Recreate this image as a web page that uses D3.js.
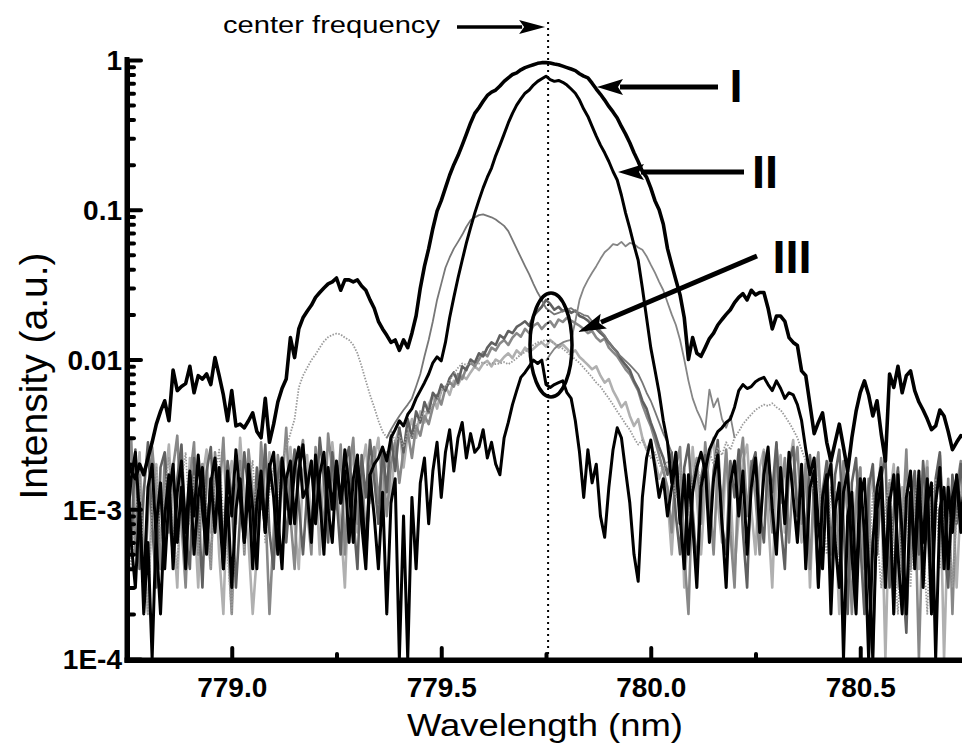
<!DOCTYPE html>
<html>
<head>
<meta charset="utf-8">
<script src="https://cdn.jsdelivr.net/npm/d3@7"></script>
<style>
body { margin: 0; background: #fff; }
text { font-family: "Liberation Sans", Arial, Helvetica, sans-serif; }
</style>
</head>
<body>
<div id="chart"></div>
<script>
// spectrometer grid: 778.75 .. 780.75 nm, 0.01 nm per sample
var wavelength = d3.range(201).map(function(i) { return Math.round((778.75 + i * 0.01) * 100) / 100; });
var centerWavelength = 779.755;

// curve I (broad, with side lobes)
var curveI = [
.0022,.0018,.0016,.0020,.0017,.0022,.0028,.0037,.0045,.0053,
.0039,.0085,.0062,.0066,.0069,.0090,.0060,.0078,.0074,.0080,
.0068,.0103,.0078,.0058,.0039,.0062,.0036,.0037,.0035,.0039,
.0044,.0033,.0030,.0055,.0028,.0037,.0052,.0064,.0074,.0140,
.0103,.0160,.0190,.0210,.0230,.0260,.0280,.0300,.0320,.0330,
.0350,.0290,.0340,.0340,.0330,.0340,.0310,.0290,.0250,.0220,
.0180,.0160,.0145,.0130,.0135,.0115,.0135,.0120,.0150,.0196,
.0300,.0420,.0550,.0750,.0980,.1150,.1400,.1700,.2000,.2300,
.2700,.3200,.3800,.4400,.4800,.5300,.5800,.6100,.6300,.6700,
.7200,.7600,.8000,.8200,.8600,.8900,.9100,.9300,.9500,.9600,
.9600,.9550,.9400,.9300,.9100,.8900,.8700,.8500,.8100,.7800,
.7600,.7000,.6400,.5900,.5400,.4900,.4500,.4100,.3600,.3200,
.2800,.2400,.2100,.1800,.1650,.1400,.1150,.1000,.0800,.0550,
.0430,.0340,.0270,.0190,.0100,.0140,.0110,.0105,.0120,.0138,
.0150,.0170,.0185,.0200,.0215,.0240,.0260,.0275,.0250,.0290,
.0270,.0280,.0280,.0220,.0160,.0195,.0195,.0180,.0140,.0130,
.0124,.0084,.0078,.0050,.0032,.0038,.0044,.0028,.0021,.0028,
.0037,.0026,.0018,.0030,.0045,.0060,.0072,.0058,.0042,.0053,
.0032,.0021,.0080,.0065,.0090,.0060,.0078,.0084,.0062,.0052,
.0046,.0040,.0034,.0036,.0046,.0042,.0033,.0025,.0028,.0031,
.0030];

// curve II (narrow peak)
var curveII = [
.0008,.0016,.0024,.0009,.0003,.0014,.0020,.0006,.0002,.0009,
.0017,.0004,.0013,.0021,.0007,.0018,.0005,.0012,.0019,.0006,
.0015,.0022,.0010,.0004,.0018,.0009,.0025,.0012,.0006,.0020,
.0010,.0004,.0016,.0007,.0019,.0024,.0009,.0004,.0016,.0021,
.0008,.0018,.0027,.0013,.0006,.0023,.0012,.0005,.0019,.0010,
.0021,.0011,.0025,.0014,.0006,.0020,.0012,.0005,.0017,.0020,
.0022,.0026,.0021,.0030,.0034,.0039,.0036,.0043,.0047,.0055,
.0062,.0070,.0080,.0095,.0104,.0098,.0130,.0190,.0260,.0350,
.0460,.0600,.0760,.0950,.1160,.1400,.1650,.1900,.2300,.2700,
.3200,.3800,.4400,.5000,.5500,.6000,.6300,.6800,.7200,.7500,
.7800,.7400,.7200,.7300,.7100,.6800,.6400,.6000,.5400,.4700,
.4200,.3600,.3100,.2700,.2400,.2100,.1800,.1580,.1250,.0950,
.0750,.0580,.0460,.0300,.0190,.0120,.0085,.0060,.0039,
.0028,.0015,.0024,.0009,.0004,.0017,.0008,.0003,.0014,.0020,
.0006,.0016,.0023,.0008,.0003,.0015,.0021,.0009,.0018,.0005,
.0014,.0022,.0007,.0017,.0026,.0010,.0005,.0019,.0008,.0024,
.0012,.0006,.0020,.0004,.0014,.0018,.0003,.0012,.0017,.0002,
.0010,.0015,.0001,.0009,.0013,.0003,.0016,.0007,.0001,.0006,
.0014,.0019,.0004,.0012,.0002,.0017,.0007,.0002,.0013,.0005,
.0018,.0003,.0011,.0015,.0001,.0010,.0014,.0004,.0012,.0016,
.0007,.0014];

// thick black trace with dip at line centre
var curveD = [
.0018,.0006,.0003,.0011,.0002,.0006,.0001,.0008,.0015,.0004,
.0012,.0020,.0006,.0014,.0004,.0017,.0009,.0023,.0010,.0005,
.0016,.0007,.0019,.0004,.0012,.0003,.0010,.0016,.0006,.0014,
.0004,.0011,.0018,.0007,.0020,.0012,.0005,.0022,.0013,.0008,
.0019,.0026,.0012,.0014,.0021,.0008,.0017,.0024,.0010,.0006,
.0020,.0011,.0018,.0006,.0016,.0023,.0008,.0004,.0017,.0009,
.0004,.0013,.0002,.0011,.0016,.0001,.0009,.0001,.0012,.0004,
.0015,.0022,.0008,.0018,.0028,.0012,.0024,.0034,.0018,.0030,
.0038,.0022,.0032,.0024,
.0026,.0034,.0022,.0028,.0020,.0017,.0030,.0038,.0050,.0062,
.0076,.0082,.0090,.0099,.0094,.0099,.0068,.0065,.0068,.0070,
.0072,.0060,.0055,.0039,.0024,.0012,.0025,.0015,.0020,.0009,
.00065,.0014,.0025,.0035,.0030,.0018,.0011,.0005,.00033,.0012,
.0022,.0029,.0019,.0012,.0016,.0009,
.0014,.0021,.0008,.0017,.0005,.0013,.0019,.0024,.0018,.0025,
.0029,.0033,.0035,.0038,.0040,.0048,.0062,.0068,.0064,.0066,
.0071,.0074,.0076,.0068,.0062,.0072,.0064,.0055,.0060,.0058,
.0050,.0039,.0025,.0017,.0022,.0008,.0004,.0015,.0020,.0006,
.0003,.0013,.0018,.0005,.0002,.0012,.0016,.0004,.0001,.0010,
.0015,.0003,.0011,.0017,.0005,.0002,.0012,.0018,.0004,.0013,
.0006,.0016,.0002,.0011,.0019,.0004,.0014,.0007,.0017,.0009,
.0015];

// group III traces (small peaks at line centre)
var curveN1 = [
.0021,.0006,.0025,.0004,.0013,.0028,.0008,.0003,.0019,.0024,
.0009,.0005,.0016,.0027,.0007,.0004,.0022,.0011,.0003,.0018,
.0026,.0008,.0015,.0005,.0021,.0012,.0003,.0009,.0024,.0013,
.0006,.0019,.0010,.0027,.0007,.0004,.0017,.0022,.0006,.0014,
.0025,.0011,.0005,.0013,.0021,.0009,.0030,.0016,.0006,.0024,
.0012,.0005,.0020,.0026,.0009,.0004,.0023,.0012,.0029,.0016,
.0008,.0026,.0013,.0031,.0018,.0035,.0024,.0040,.0030,.0045,
.0038,.0052,.0044,.0060,.0055,.0068,.0062,.0075,.0082,.0070,
.0090,.0085,.0100,.0095,.0110,.0105,.0120,.0130,.0125,.0145,
.0138,.0155,.0150,.0165,.0172,.0180,.0168,.0195,.0210,.0225,
.0250,.0235,.0215,.0225,.0210,.0218,.0205,.0212,.0195,.0190,
.0182,.0170,.0160,.0150,.0142,.0130,.0120,.0112,.0100,.0092,
.0085,.0072,.0064,.0053,.0047,.0038,.0032,.0026,.0022,.0017,
.0024,.0009,.0005,.0019,.0027,.0010,.0004,.0016,.0023,.0007,
.0018,.0029,.0008,.0005,.0021,.0012,.0025,.0007,.0003,.0019,
.0024,.0010,.0006,.0022,.0013,.0028,.0008,.0004,.0020,.0026,
.0009,.0018,.0006,.0023,.0011,.0003,.0013,.0021,.0005,.0017,
.0025,.0008,.0002,.0015,.0022,.0006,.0002,.0014,.0020,.0005,
.0016,.0023,.0003,.0010,.0019,.0004,.00015,.0011,.0018,.0005,
.0021,.0009,.0002,.0016,.0024,.0006,.0003,.0017,.0008,.0020,
.0012];

var curveN2 = [
.0014,.0030,.0005,.0017,.0003,.0009,.0026,.0012,.0004,.0022,
.0007,.0019,.0031,.0008,.0003,.0016,.0028,.0005,.0020,.0010,
.0004,.0024,.0012,.0030,.0007,.0002,.0014,.0021,.0005,.0025,
.0013,.0006,.0028,.0011,.0002,.0007,.0023,.0014,.0035,.0009,
.0004,.0020,.0029,.0010,.0005,.0026,.0015,.0007,.0032,.0018,
.0010,.0027,.0005,.0018,.0030,.0008,.0021,.0006,.0019,.0026,
.0011,.0023,.0009,.0020,.0028,.0015,.0025,.0033,.0022,.0036,
.0031,.0042,.0037,.0048,.0058,.0050,.0064,.0071,.0066,.0080,
.0074,.0088,.0095,.0090,.0100,.0112,.0105,.0120,.0115,.0128,
.0135,.0125,.0140,.0150,.0142,.0160,.0150,.0168,.0175,.0160,
.0172,.0180,.0165,.0185,.0178,.0190,.0182,.0175,.0168,.0160,
.0150,.0155,.0140,.0132,.0138,.0120,.0112,.0105,.0095,.0086,
.0080,.0070,.0062,.0050,.0042,.0036,.0029,.0023,.0018,.0014,
.0007,.0019,.0026,.0005,.0002,.0015,.0022,.0008,.0028,.0013,
.0005,.0020,.0010,.0025,.0007,.0003,.0018,.0030,.0009,.0021,
.0012,.0005,.0024,.0015,.0007,.0027,.0011,.0022,.0006,.0017,
.0026,.0008,.0020,.0004,.0015,.0024,.0006,.0018,.0003,.0013,
.0005,.0021,.0009,.0002,.0011,.0019,.0004,.0016,.0001,.0012,
.0022,.0004,.0015,.0002,.0018,.0007,.0025,.0004,.0014,.0001,
.0010,.0019,.0003,.0013,.0023,.0005,.0016,.0002,.0014,.0021,
.0008];

var curveN3 = [
.0004,.0018,.0008,.0024,.0005,.0002,.0013,.0020,.0005,.0015,
.0027,.0008,.0003,.0019,.0006,.0022,.0010,.0003,.0016,.0025,
.0007,.0018,.0005,.0002,.0014,.0021,.0008,.0030,.0012,.0006,
.0002,.0005,.0019,.0009,.0024,.0012,.0005,.0021,.0010,.0026,
.0008,.0004,.0018,.0023,.0007,.0017,.0005,.0020,.0010,.0028,
.0014,.0008,.0003,.0016,.0024,.0007,.0018,.0027,.0011,.0021,
.0030,.0013,.0024,.0011,.0028,.0035,.0019,.0032,.0040,.0030,
.0045,.0038,.0050,.0058,.0047,.0062,.0066,.0058,.0072,.0068,
.0078,.0074,.0082,.0090,.0085,.0094,.0098,.0090,.0100,.0096,
.0104,.0110,.0102,.0115,.0108,.0120,.0112,.0118,.0125,.0130,
.0122,.0135,.0128,.0120,.0126,.0118,.0110,.0115,.0104,.0098,
.0092,.0086,.0090,.0078,.0070,.0074,.0062,.0055,.0048,.0052,
.0042,.0036,.0040,.0030,.0025,.0028,.0021,.0016,.0019,.0012,
.0005,.0015,.0020,.0003,.0008,.0026,.0012,.0005,.0014,.0022,
.0030,.0011,.0006,.0024,.0013,.0004,.0009,.0021,.0027,.0010,
.0005,.0019,.0025,.0009,.0003,.0017,.0023,.0007,.0019,.0029,
.0011,.0006,.0021,.0003,.0014,.0020,.0005,.0016,.0024,.0008,
.0002,.0010,.0017,.0004,.0013,.0019,.0002,.0011,.0018,.0005,
.0015,.0001,.0012,.0020,.0003,.0014,.0002,.0010,.0017,.0004,
.0013,.0021,.0003,.0011,.0018,.0001,.0009,.0015,.0003,.0012,
.0019];

// dotted trace with side lobes
var curveN4 = [
.0012,.0004,.0009,.0016,.0005,.0002,.0011,.0019,.0006,.0013,
.0022,.0007,.0004,.0015,.0024,.0008,.0017,.0005,.0020,.0010,
.0004,.0016,.0025,.0009,.0005,.0002,.0010,.0018,.0005,.0014,
.0021,.0008,.0016,.0006,.0013,.0019,.0011,.0021,
.0026,.0032,.0040,.0065,.0078,.0088,.0099,.0108,.0120,.0132,
.0141,.0146,.0149,.0147,.0140,.0135,.0125,.0110,.0090,.0072,
.0058,.0048,.0039,.0033,.0030,.0034,.0028,.0031,.0026,.0033,
.0030,.0036,
.0040,.0045,.0043,.0050,.0054,.0060,.0066,.0072,.0080,.0088,
.0094,.0092,.0095,.0093,.0094,.0096,.0092,.0095,.0093,.0094,
.0096,.0093,.0097,.0102,.0108,.0112,.0120,.0125,.0130,.0132,
.0135,.0133,.0128,.0124,.0118,.0112,.0106,.0100,.0095,.0088,
.0082,.0076,.0070,.0066,.0060,.0055,.0050,.0045,.0041,.0037,
.0034,.0030,.0027,.0029,.0025,.0022,.0024,.0020,.0018,.0021,
.0017,.0012,.0019,.0015,.0009,.0016,.0022,.0013,.0018,.0024,
.0020,.0026,.0023,.0028,.0025,.0030,.0033,.0037,.0040,.0043,
.0046,.0048,.0050,.0049,.0051,.0048,.0046,.0042,.0038,.0034,
.0030,.0025,.0021,.0017,.0013,.0016,.0009,.0005,.0014,.0008,
.0004,.0012,.0017,.0006,.0002,.0011,.0015,.0004,.0013,.0007,
.0003,.0010,.0016,.0005,.0002,.0009,.0014,.0003,.0011,.0018,
.0006,.0002,.0012,.0016,.0004,.0010,.0014,.0003,.0009,.0013,
.0005];

// thin grey traces, only the central part (start index into wavelength)
var curveG1Start = 62;
var curveG1 = [
.0030,.0034,.0038,.0042,.0046,.0050,.0055,.0066,.0080,.0105,
.0135,.0180,.0250,.0320,.0410,.0480,.0550,.0610,.0680,.0770,
.0850,.0890,.0920,.0930,.0910,.0890,.0860,.0820,.0780,.0720,
.0630,.0550,.0480,.0420,.0370,.0320,.0280,.0250,.0220,.0210,
.0200,.0205,.0210,.0215,.0220,.0210,.0205,.0198,.0195,.0180,
.0170,.0155,.0145,.0130,.0120,.0110,.0104,.0098,.0092,.0086,
.0080,.0070,.0060,.0053,.0045,.0038,.0032,.0028,.0024];

var curveG2Start = 100;
var curveG2 = [
.0098,.0108,.0118,.0125,.0130,.0133,.0135,.0180,.0250,.0300,
.0340,.0380,.0420,.0470,.0520,.0550,.0590,.0580,.0610,.0570,
.0600,.0590,.0560,.0540,.0490,.0430,.0380,.0330,.0290,.0240,
.0200,.0170,.0135,.0100,.0072,.0055,.0046,.0040,.0034,.0063,
.0048,.0055,.0040,.0035,.0042,.0030];

var xMajor = [779.0, 779.5, 780.0, 780.5];
var xMinor = [779.25, 779.75, 780.25];
var yMajor = [1e-4, 1e-3, 1e-2, 1e-1, 1];
var yMajorLabels = ["1E-4", "1E-3", "0.01", "0.1", "1"];

var width = 962;
var height = 751;

var svg = d3.select("#chart").append("svg")
    .attr("width", width)
    .attr("height", height);

//Scales
var xScale = d3.scaleLinear().domain([778.75, 780.75]).range([127, 965]);
var yScale = d3.scaleLog().domain([1e-4, 1]).range([659, 60]);

function seriesLine(start) {
    return d3.line()
        .x(function(d, i) { return xScale(wavelength[start + i]); })
        .y(function(d) { return yScale(Math.max(d, 1e-4)); });
}

var traces = [
    { values: curveN3, start: 0, color: "#b0b0b0", w: 2.6, dash: null },
    { values: curveN2, start: 0, color: "#888", w: 2.6, dash: null },
    { values: curveN1, start: 0, color: "#606060", w: 2.6, dash: null },
    { values: curveN4, start: 0, color: "#999", w: 1.8, dash: "1.5,1.5" },
    { values: curveG1, start: curveG1Start, color: "#777", w: 1.8, dash: null },
    { values: curveG2, start: curveG2Start, color: "#858585", w: 1.8, dash: null },
    { values: curveD, start: 0, color: "#000", w: 3, dash: null },
    { values: curveII, start: 0, color: "#000", w: 3, dash: null },
    { values: curveI, start: 0, color: "#000", w: 3.6, dash: null }
];

svg.append("g").attr("class", "traces")
    .selectAll("path")
    .data(traces)
    .enter()
    .append("path")
    .attr("d", function(t) { return seriesLine(t.start)(t.values); })
    .attr("fill", "none")
    .attr("stroke", function(t) { return t.color; })
    .attr("stroke-width", function(t) { return t.w; })
    .attr("stroke-dasharray", function(t) { return t.dash; })
    .attr("stroke-linejoin", "round");

// Axis titles
svg.append("text")
    .attr("x", 407)
    .attr("y", 736)
    .attr("textLength", 276)
    .attr("lengthAdjust", "spacingAndGlyphs")
    .style("font-size", "31px")
    .text("Wavelength (nm)");

svg.append("text")
    .attr("text-anchor", "middle")
    .attr("transform", "translate(47,376) rotate(-90)")
    .style("font-size", "39px")
    .text("Intensity (a.u.)");

// centre frequency marker
var cx = xScale(centerWavelength);
svg.append("line")
    .attr("x1", cx).attr("x2", cx)
    .attr("y1", 22).attr("y2", 657)
    .attr("stroke", "#000")
    .attr("stroke-width", 2)
    .attr("stroke-dasharray", "2,4");

svg.append("text")
    .attr("x", 223)
    .attr("y", 33)
    .attr("textLength", 217)
    .attr("lengthAdjust", "spacingAndGlyphs")
    .style("font-size", "23px")
    .text("center frequency");

function drawArrow(x1, y1, x2, y2, headLen, headHalf, w) {
    var dx = x2 - x1, dy = y2 - y1;
    var len = Math.sqrt(dx * dx + dy * dy);
    var ux = dx / len, uy = dy / len;
    var bx = x2 - ux * headLen, by = y2 - uy * headLen;
    svg.append("line")
        .attr("x1", x1).attr("y1", y1)
        .attr("x2", bx + ux * 3).attr("y2", by + uy * 3)
        .attr("stroke", "#000")
        .attr("stroke-width", w);
    svg.append("path")
        .attr("d", "M" + x2 + "," + y2 +
            "L" + (bx - uy * headHalf) + "," + (by + ux * headHalf) +
            "L" + (bx + ux * 5) + "," + (by + uy * 5) +
            "L" + (bx + uy * headHalf) + "," + (by - ux * headHalf) + "Z")
        .attr("fill", "#000");
}

drawArrow(457, 27, cx - 3, 27, 26, 7, 3.5);
drawArrow(718, 87, 597, 87, 26, 8, 5);
drawArrow(744, 172, 618, 172, 26, 8, 5);
drawArrow(757, 256, 578, 332, 28, 8, 5);

// roman numeral labels
var numerals = [
    { text: "I", x: 736, y: 102 },
    { text: "II", x: 765, y: 188 },
    { text: "III", x: 792, y: 273 }
];
svg.selectAll(".numeral")
    .data(numerals)
    .enter()
    .append("text")
    .attr("class", "numeral")
    .attr("x", function(d) { return d.x; })
    .attr("y", function(d) { return d.y; })
    .attr("text-anchor", "middle")
    .style("font-family", "'Liberation Sans Narrow', 'Arial Narrow', 'Liberation Sans', sans-serif")
    .style("font-weight", "bold")
    .style("font-size", "47px")
    .text(function(d) { return d.text; });

// ellipse around group III
svg.append("ellipse")
    .attr("cx", 551).attr("cy", 345)
    .attr("rx", 21).attr("ry", 52)
    .attr("fill", "none")
    .attr("stroke", "#000")
    .attr("stroke-width", 3.5);

// Axes (drawn last, ticks point inward)
var yMinorTicks = yScale.ticks().filter(function(v) { return yMajor.indexOf(v) < 0; });

var yAxisMinor = svg.append("g")
    .attr("transform", "translate(127,0)")
    .call(d3.axisLeft(yScale).tickValues(yMinorTicks).tickSize(-7).tickSizeOuter(0)
        .tickFormat(function() { return ""; }));

var yAxisMajor = svg.append("g")
    .attr("transform", "translate(127,0)")
    .call(d3.axisLeft(yScale).tickValues(yMajor).tickSize(-14).tickSizeOuter(0)
        .tickFormat(function(d, i) { return yMajorLabels[i]; }));

var xAxisMinor = svg.append("g")
    .attr("transform", "translate(0,660)")
    .call(d3.axisBottom(xScale).tickValues(xMinor).tickSize(-6).tickSizeOuter(0)
        .tickFormat(function() { return ""; }));

var xAxisMajor = svg.append("g")
    .attr("transform", "translate(0,660)")
    .call(d3.axisBottom(xScale).tickValues(xMajor).tickSize(-12).tickSizeOuter(0)
        .tickFormat(d3.format(".1f")));

[yAxisMinor, yAxisMajor, xAxisMinor, xAxisMajor].forEach(function(g) {
    g.selectAll(".tick line")
        .attr("stroke", "#000")
        .attr("stroke-width", 4)
        .attr("stroke-linecap", "round");
    g.select(".domain").attr("stroke", "#000").attr("stroke-width", 5);
});

yAxisMajor.selectAll(".tick text")
    .attr("x", -5)
    .attr("dy", "0.35em")
    .style("font-size", "28px")
    .style("font-weight", "bold");

xAxisMajor.selectAll(".tick text")
    .attr("y", 37)
    .attr("dy", null)
    .style("font-size", "28px")
    .style("font-weight", "bold");

// solid axis bars on top of everything
svg.append("rect")
    .attr("x", 124.5).attr("y", yScale(1) - 3)
    .attr("width", 5).attr("height", 663 - yScale(1) + 3)
    .attr("fill", "#000");
svg.append("rect")
    .attr("x", 124.5).attr("y", 657.5)
    .attr("width", xScale.range()[1] - 124.5).attr("height", 5)
    .attr("fill", "#000");
</script>
</body>
</html>
